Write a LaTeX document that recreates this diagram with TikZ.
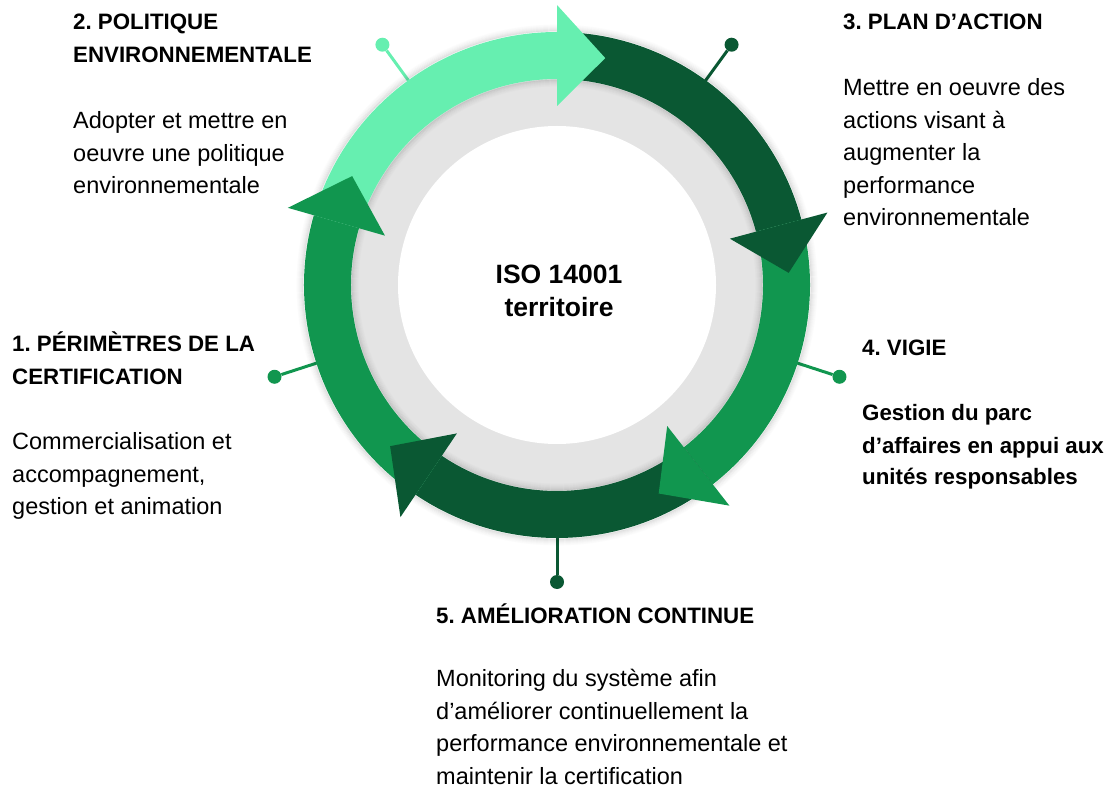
\documentclass[tikz,border=0pt]{standalone}
\usepackage{fontspec}
\setmainfont{Liberation Sans}
\frenchspacing
\usetikzlibrary{calc}
\definecolor{lightg}{HTML}{66EFB0}
\definecolor{medg}{HTML}{11964F}
\definecolor{darkg}{HTML}{0A5833}
\definecolor{ringgray}{HTML}{E4E4E4}
\newcommand{\ringbody}[3]{\fill[#1] ($(C)+(#2:253)$) arc[start angle=#2, end angle=#3, radius=253] -- ($(C)+(#3:206)$) arc[start angle=#3, end angle=#2, radius=206] -- cycle;}
\newcommand{\ringhead}[2]{\fill[#1] ($(C)+(#2:179)$) -- ($(C)+(#2:280)$) -- ($(C)+({#2-12}:232)$) -- cycle;}
\begin{document}
\begin{tikzpicture}[x=1pt,y=1pt,
  headtxt/.style={font=\bfseries\fontsize{22.3}{33}\selectfont, align=left, anchor=base west, inner sep=0pt},
  bodytxt/.style={font=\fontsize{23.5}{32.5}\selectfont, align=left, anchor=base west, inner sep=0pt},
  pindot/.style={circle, inner sep=0pt, minimum size=14pt},
  pinline/.style={line width=3pt}]
\useasboundingbox (0,0) rectangle (1111,788);
\coordinate (C) at (557,503);
% pins
\foreach \n/\a/\c in {p1/198/medg, p2/126/lightg, p3/54/darkg, p4/-18/medg, p5/-90/darkg}{
  \coordinate (\n a) at ($(C)+(\a:250)$);
  \node[pindot, fill=\c] (\n) at ($(C)+(\a:297)$) {};
  \draw[pinline, \c] (\n a) -- (\n);
}
% gray ring and white disc
\fill[ringgray] (C) circle[radius=210];
\foreach \i/\o in {1/0.10,2/0.08,3/0.06,4/0.045,5/0.03,6/0.02,7/0.01}
  \draw[line width=1.2pt, draw=black, draw opacity=\o] (C) circle[radius=206-\i];
\fill[white] (C) circle[radius=159];
% outer shadow
\foreach \i/\o in {1/0.10,2/0.08,3/0.06,4/0.045,5/0.03,6/0.02,7/0.01}
  \draw[line width=1.2pt, draw=black, draw opacity=\o] (C) circle[radius=253+\i];
% ring bodies
\ringbody{lightg}{164}{90}
\ringbody{darkg}{90}{15}
\ringbody{medg}{15}{-52}
\ringbody{darkg}{-52}{-124}
\ringbody{medg}{-124}{-196}
% heads
\ringhead{lightg}{90}
\ringhead{darkg}{15}
\ringhead{medg}{-52}
\ringhead{darkg}{-124}
\ringhead{medg}{-196}
% center
\node[font=\bfseries\fontsize{26.5}{33}\selectfont, align=center, anchor=base, inner sep=0pt] (ctr) at (559,471) {ISO 14001\\territoire};
% texts (base anchor = baseline of last line)
\node[headtxt] (h2) at (73,725) {2. POLITIQUE\\ENVIRONNEMENTALE};
\node[bodytxt] (b2) at (73,594) {Adopter et mettre en\\oeuvre une politique\\environnementale};
\node[headtxt] (h3) at (843,758) {3. PLAN D’ACTION};
\node[bodytxt] (b3) at (843,562) {Mettre en oeuvre des\\actions visant à\\augmenter la\\performance\\environnementale};
\node[headtxt] (h1) at (12,403) {1. PÉRIMÈTRES DE LA\\CERTIFICATION};
\node[bodytxt] (b1) at (12,273) {Commercialisation et\\accompagnement,\\gestion et animation};
\node[headtxt] (h4) at (862,432) {4. VIGIE};
\node[headtxt, font=\bfseries\fontsize{22.3}{32}\selectfont] (b4) at (862,303) {Gestion du parc\\d’affaires en appui aux\\unités responsables};
\node[headtxt] (h5) at (436,165) {5. AMÉLIORATION CONTINUE};
\node[bodytxt] (b5) at (436,4) {Monitoring du système afin\\d’améliorer continuellement la\\performance environnementale et\\maintenir la certification};
\end{tikzpicture}
\end{document}
